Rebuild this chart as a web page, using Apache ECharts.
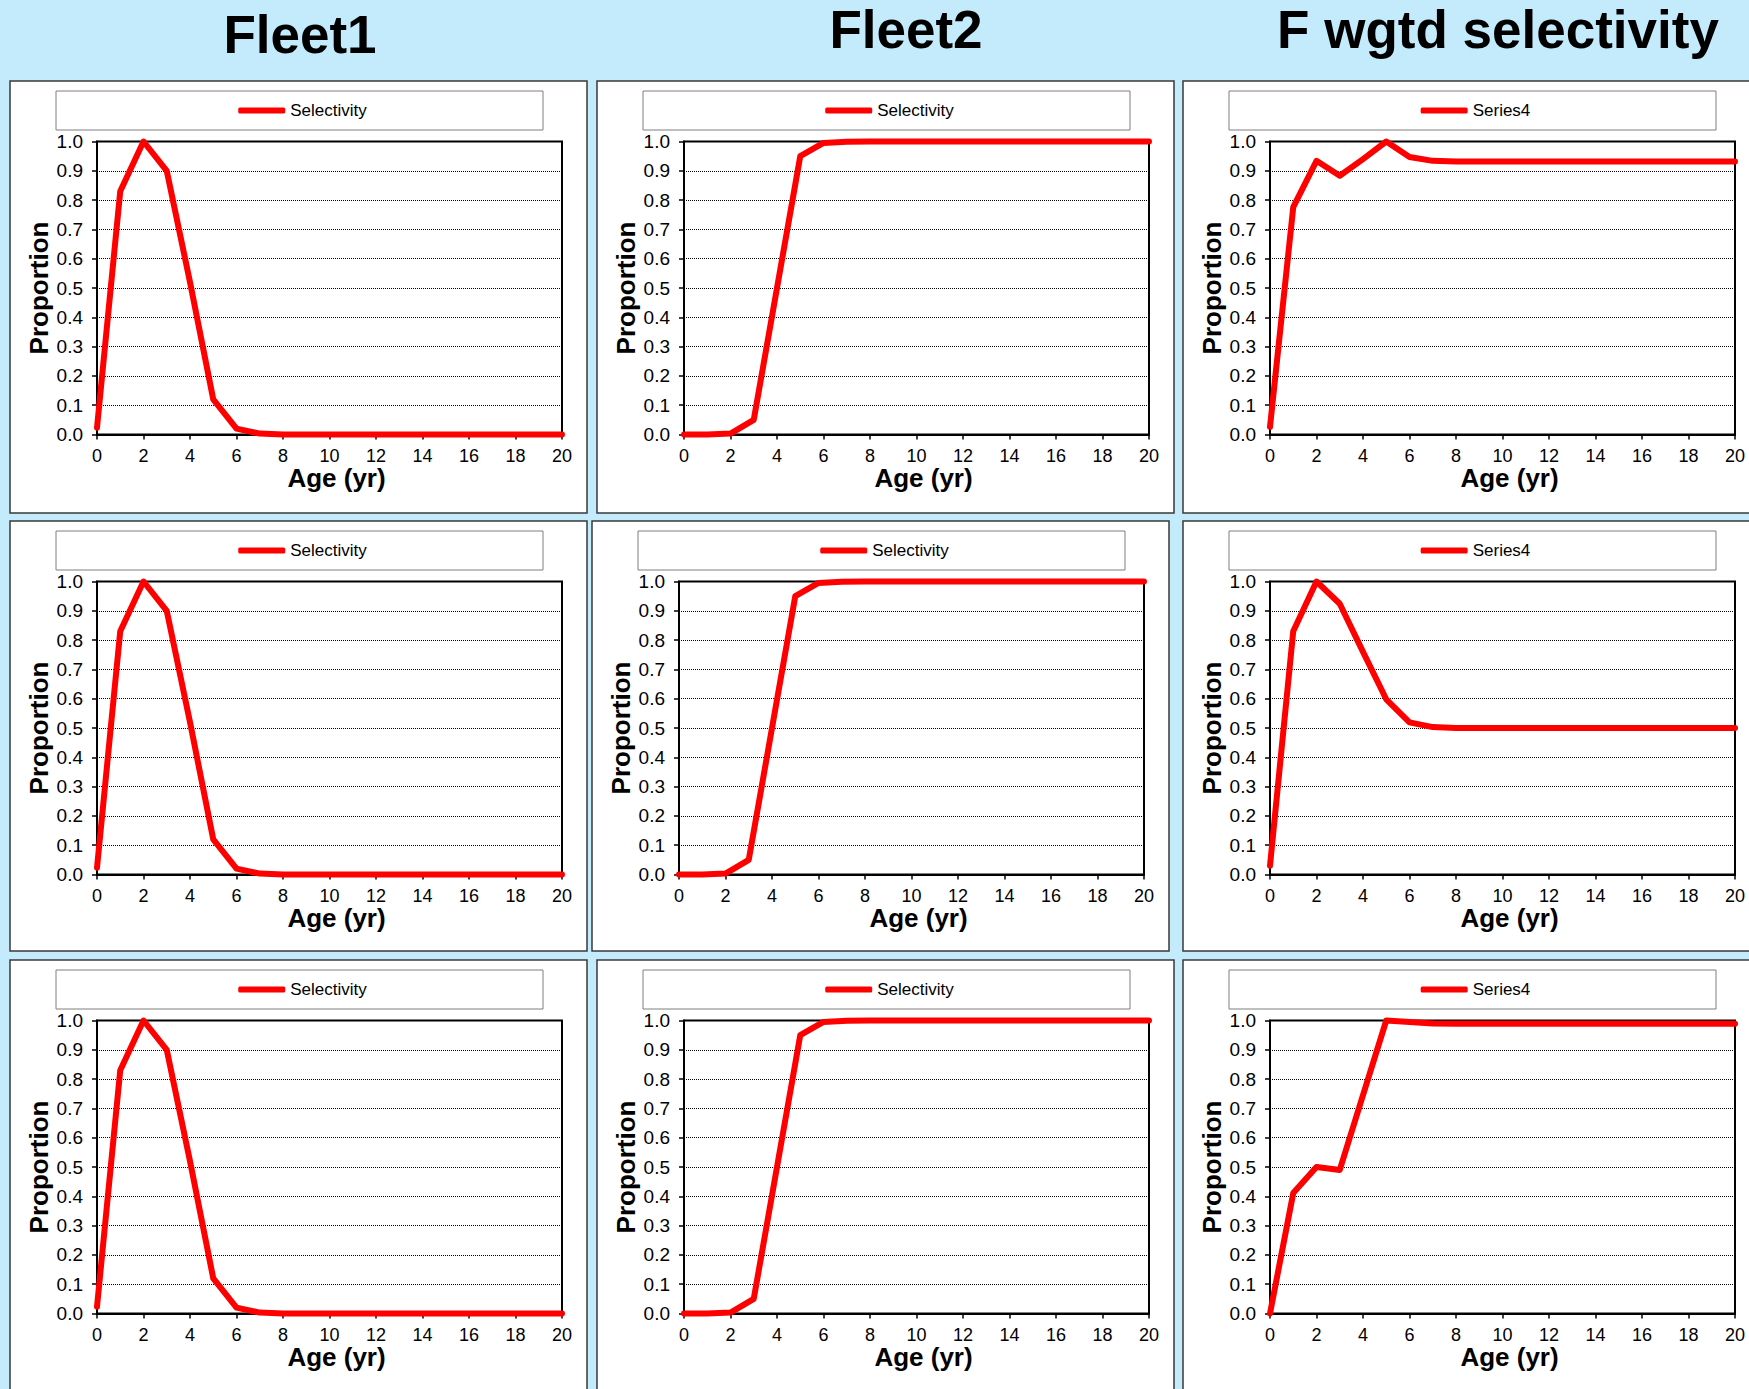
<!DOCTYPE html>
<html><head><meta charset="utf-8">
<script src="https://cdn.jsdelivr.net/npm/echarts@6/dist/echarts.min.js"></script>
<style>html,body{margin:0;padding:0;background:#C3EBFB;}#c{width:1749px;height:1389px;}</style>
</head><body><div id="c"></div>
<script>
// ---- data ----
const ages = [0,1,2,3,4,5,6,7,8,9,10,11,12,13,14,15,16,17,18,19,20];
const fleet1Sel = [0.023,0.83,1.0,0.90,0.52,0.12,0.02,0.003,0,0,0,0,0,0,0,0,0,0,0,0,0];
const fleet2Sel = [0,0,0.003,0.05,0.50,0.95,0.995,0.999,1,1,1,1,1,1,1,1,1,1,1,1,1];
const wgtdRow1 = [0.026,0.776,0.934,0.883,0.94,1.0,0.947,0.934,0.932,0.932,0.932,0.932,0.932,0.932,0.932,0.932,0.932,0.932,0.932,0.932,0.932];
const wgtdRow2 = [0.03,0.83,1.0,0.924,0.76,0.598,0.519,0.503,0.5,0.5,0.5,0.5,0.5,0.5,0.5,0.5,0.5,0.5,0.5,0.5,0.5];
const wgtdRow3 = [0.0,0.411,0.50,0.49,0.745,1.0,0.995,0.99,0.989,0.989,0.989,0.989,0.989,0.989,0.989,0.989,0.989,0.989,0.989,0.989,0.989];
const columnTitles = ['Fleet1','Fleet2','F wgtd selectivity'];
const legendNames = ['Selectivity','Selectivity','Series4'];
const xAxisTitle = 'Age (yr)';
const yAxisTitle = 'Proportion';
const panelData = [[fleet1Sel, fleet2Sel, wgtdRow1],[fleet1Sel, fleet2Sel, wgtdRow2],[fleet1Sel, fleet2Sel, wgtdRow3]];

// ---- layout ----
const FONT = '"Liberation Sans", Arial, sans-serif';
const colX = [[10,597,1183],[10,592,1183],[10,597,1183]];
const rowY = [81,521,960];
const panelH = [432,430,440];
const ctx = document.createElement('canvas').getContext('2d');
ctx.font = '17px "Liberation Sans"';

const grids=[], xAxes=[], yAxes=[], series=[], legends=[], graphics=[];
const titles = [
  {text: columnTitles[0], left: 300, top: 9},
  {text: columnTitles[1], left: 906, top: 4},
  {text: columnTitles[2], left: 1498, top: 4}
].map(t => ({text: t.text, left: t.left, top: t.top, textAlign: 'center', padding: 0,
  textStyle: {fontFamily: FONT, fontSize: 53, fontWeight: 'bold', color: '#000', lineHeight: 50}}));

let idx = 0;
for (let r=0;r<3;r++){
  for (let c=0;c<3;c++){
    const px = colX[r][c], py = rowY[r];
    graphics.push({type:'rect', z:-5, shape:{x:px,y:py,width:(c===2?620:577),height:panelH[r]},
      style:{fill:'#fff', stroke:'#3a3a3a', lineWidth:1.5}});
    graphics.push({type:'rect', z:-4, shape:{x:px+46,y:py+10,width:487,height:39},
      style:{fill:'#fff', stroke:'#7f7f7f', lineWidth:1}});
    grids.push({left:px+87, top:py+60.5, width:465, height:293, show:true,
      borderColor:'#000', borderWidth:2, backgroundColor:'#fff', containLabel:false});
    xAxes.push({type:'value', gridIndex:idx, min:0, max:20, interval:2,
      name:xAxisTitle, nameLocation:'middle', nameGap:24,
      nameTextStyle:{fontFamily:FONT, fontSize:26, fontWeight:'bold', color:'#000', padding:[0,0,0,14]},
      axisLine:{show:true, lineStyle:{color:'#000', width:2}},
      axisTick:{show:true, length:5, lineStyle:{color:'#000', width:1.5}},
      axisLabel:{fontFamily:FONT, fontSize:18, color:'#000', margin:12},
      splitLine:{show:false}});
    yAxes.push({type:'value', gridIndex:idx, min:0, max:1, interval:0.1,
      name:yAxisTitle, nameLocation:'middle', nameRotate:90, nameGap:45,
      nameTextStyle:{fontFamily:FONT, fontSize:26, fontWeight:'bold', color:'#000'},
      axisLine:{show:true, lineStyle:{color:'#000', width:2}},
      axisTick:{show:true, length:5, lineStyle:{color:'#000', width:1.5}},
      axisLabel:{fontFamily:FONT, fontSize:19, color:'#000', margin:14, formatter:v=>v.toFixed(1)},
      splitLine:{show:true, lineStyle:{color:'#000', type:'dotted', width:1}}});
    const vals = panelData[r][c];
    series.push({type:'line', name:legendNames[c], xAxisIndex:idx, yAxisIndex:idx,
      data: ages.map((a,i)=>[a, vals[i]]), symbol:'none', clip:false,
      lineStyle:{color:'#FF0000', width:6, cap:'round', join:'round'}, itemStyle:{color:'#FF0000'}});
    const tw = ctx.measureText(legendNames[c]).width;
    const groupW = 47 + 5 + tw;
    const cx = px + 46 + 487/2 + 3;
    legends.push({data:[legendNames[c]], left: cx - groupW/2, top: py + 10 + 19.5 - 9, padding:0,
      icon:'roundRect', itemWidth:47, itemHeight:6, selectedMode:false,
      itemStyle:{color:'#FF0000'},
      textStyle:{fontFamily:FONT, fontSize:17, color:'#000', lineHeight:18}});
    idx++;
  }
}

const chart = echarts.init(document.getElementById('c'), null, {renderer:'svg'});
chart.setOption({
  backgroundColor:'#C3EBFB',
  animation:false,
  title: titles,
  legend: legends,
  grid: grids,
  xAxis: xAxes,
  yAxis: yAxes,
  series: series,
  graphic: graphics
});
</script></body></html>
